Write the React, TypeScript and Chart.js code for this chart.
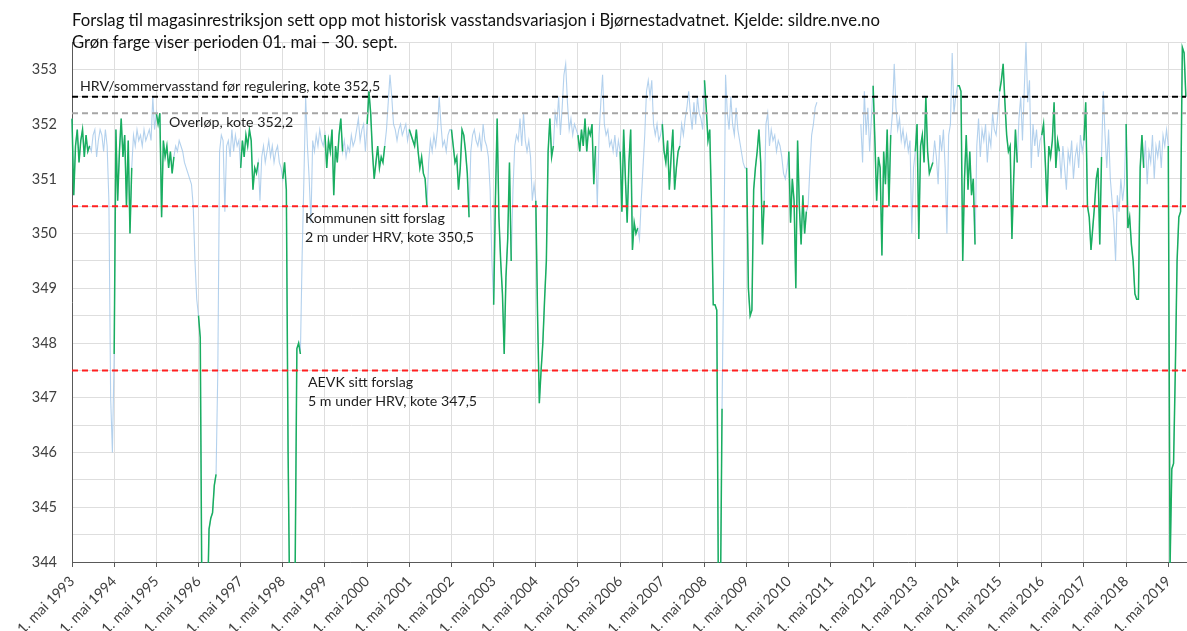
import React, { useEffect, useRef } from 'react';
import { Chart, registerables } from 'chart.js';

Chart.register(...registerables);

// Title and annotation texts
const TITLE_LINES = [
  'Forslag til magasinrestriksjon sett opp mot historisk vasstandsvariasjon i Bjørnestadvatnet. Kjelde: sildre.nve.no',
  'Grøn farge viser perioden 01. mai – 30. sept.',
];

// Year ticks (1. mai each year)
const TICK_YEARS = [1993, 1994, 1995, 1996, 1997, 1998, 1999, 2000, 2001, 2002, 2003, 2004, 2005, 2006, 2007, 2008, 2009, 2010, 2011, 2012, 2013, 2014, 2015, 2016, 2017, 2018, 2019];
const Y_LABELS = [344, 345, 346, 347, 348, 349, 350, 351, 352, 353];

// Reference levels (kote)
const HRV = 352.5;
const OVERLOP = 352.2;
const KOMMUNEN = 350.5;
const AEVK = 347.5;

// Water level, semi-monthly values from 1. mai each year to mid-April next year
const Y1993 = [352.1, 350.7, 351.6, 351.9, 351.3, 351.7, 351.9, 351.4, 351.8, 351.5, 351.6, 351.5, 351.8, 351.9, 351.4, 351.7, 351.9, 351.8, 351.5, 351.9, 351.6, 350.6, 347.0, 346.0];
const Y1994 = [347.8, 351.9, 350.6, 351.5, 352.1, 351.4, 351.8, 350.5, 351.7, 350.0, 351.2, 351.8, 351.6, 351.9, 351.7, 351.8, 351.6, 351.9, 351.7, 351.8, 351.9, 351.7, 352.5, 351.9];
const Y1995 = [352.2, 352.0, 352.2, 350.3, 351.7, 351.4, 351.6, 351.2, 351.5, 351.1, 351.4, 351.6, 351.5, 351.7, 351.6, 351.5, 351.3, 351.2, 351.1, 351.0, 350.9, 350.5, 349.5, 348.8];
const Y1996 = [348.5, 348.1, 343.0, 343.0, 343.0, 343.0, 344.6, 344.8, 344.9, 345.4, 345.6, 347.5, 351.5, 351.8, 351.7, 350.4, 351.6, 351.7, 351.4, 351.9, 351.5, 351.8, 351.6, 351.7];
const Y1997 = [351.2, 351.7, 351.4, 351.8, 351.6, 351.9, 351.7, 350.8, 351.2, 351.1, 351.3, 350.6, 351.4, 351.6, 351.3, 351.5, 351.7, 351.4, 351.6, 351.3, 351.5, 351.6, 351.3, 351.2];
const Y1998 = [351.0, 351.3, 350.8, 346.0, 343.0, 343.0, 343.0, 343.8, 347.9, 348.0, 347.8, 349.6, 351.0, 352.5, 351.6, 351.0, 350.2, 351.7, 351.5, 351.8, 351.6, 351.9, 351.7, 351.6];
const Y1999 = [351.8, 351.2, 351.7, 351.5, 351.9, 350.7, 351.6, 351.3, 351.8, 352.1, 351.5, 351.7, 351.4, 351.6, 351.5, 351.8, 351.6, 351.7, 351.9, 352.1, 351.7, 351.9, 352.0, 351.5];
const Y2000 = [352.0, 352.6, 352.2, 351.5, 351.0, 351.3, 351.6, 351.2, 351.4, 351.3, 351.6, 351.9, 352.4, 352.9, 352.5, 352.0, 351.9, 351.7, 351.9, 352.0, 351.8, 351.9, 352.0, 351.7];
const Y2001 = [351.9, 351.8, 351.7, 351.6, 351.9, 351.5, 351.2, 351.4, 351.1, 351.0, 350.5, 351.3, 351.7, 351.5, 351.8, 351.6, 351.9, 352.5, 352.0, 351.6, 351.7, 351.5, 351.8, 351.9];
const Y2002 = [351.9, 351.6, 351.3, 351.4, 350.8, 351.2, 351.9, 351.8, 351.5, 351.1, 350.3, 351.5, 351.8, 351.9, 351.7, 351.6, 351.8, 351.5, 352.0, 351.7, 351.6, 351.4, 350.8, 349.5];
const Y2003 = [348.7, 350.6, 352.1, 350.3, 349.5, 348.9, 347.8, 349.2, 349.9, 351.3, 349.5, 350.8, 351.6, 351.8, 351.7, 352.1, 351.6, 352.2, 351.7, 351.5, 351.7, 351.4, 350.6, 350.9];
const Y2004 = [350.6, 348.5, 346.9, 347.5, 348.0, 348.8, 349.5, 351.5, 352.1, 351.4, 351.6, 352.2, 352.0, 352.5, 351.8, 352.3, 352.9, 353.1, 352.4, 351.9, 352.1, 351.8, 352.0, 351.9];
const Y2005 = [351.8, 351.5, 351.9, 351.6, 352.1, 351.5, 351.9, 351.8, 352.0, 350.9, 351.6, 350.5, 351.8, 352.4, 352.9, 352.0, 351.8, 351.9, 351.6, 351.7, 351.5, 351.8, 351.4, 351.7];
const Y2006 = [351.5, 350.4, 351.9, 351.0, 350.2, 351.3, 351.9, 349.7, 350.2, 350.0, 350.1, 349.9, 350.6, 351.2, 351.8, 352.6, 352.8, 352.5, 352.8, 352.0, 351.8, 352.0, 351.7, 351.8];
const Y2007 = [352.0, 351.5, 351.3, 351.7, 350.8, 351.4, 351.9, 350.8, 351.2, 351.5, 351.6, 352.0, 351.8, 352.1, 352.3, 352.6, 352.2, 351.9, 352.4, 352.0, 352.5, 352.2, 352.1, 351.9];
const Y2008 = [352.8, 352.3, 351.7, 351.9, 350.5, 348.7, 348.7, 348.6, 343.0, 343.0, 346.8, 349.5, 352.9, 352.2, 351.9, 352.5, 352.0, 351.8, 352.3, 351.9, 351.7, 351.5, 351.3, 351.2];
const Y2009 = [351.2, 349.0, 348.5, 348.6, 350.8, 351.2, 351.5, 351.9, 351.3, 349.8, 350.6, 352.0, 352.2, 351.6, 351.9, 351.7, 351.8, 351.5, 351.7, 351.6, 351.4, 351.1, 351.0, 351.2];
const Y2010 = [351.5, 350.2, 351.0, 350.6, 349.0, 351.7, 350.5, 349.8, 350.7, 350.0, 350.4, 350.5, 351.2, 351.8, 352.0, 352.3, 352.4, null, null, null, null, null, null, null];
const Y2011 = [null, null, null, null, null, null, null, null, null, null, null, null, null, null, null, null, null, 352.0, 351.3, 352.6, 351.8, 352.3, 351.5, 352.1];
const Y2012 = [352.7, 351.7, 350.6, 351.4, 351.2, 349.6, 351.5, 350.9, 351.9, 350.5, 351.8, 352.2, 353.1, 352.3, 351.9, 352.1, 351.7, 351.9, 351.6, 351.8, 351.5, 351.7, 350.0, 351.2];
const Y2013 = [351.5, 352.0, 349.9, 351.6, 351.8, 351.3, 352.5, 351.5, 351.1, 351.2, 351.3, 351.7, 351.4, 350.9, 351.8, 351.5, 351.9, 351.2, 350.0, 351.8, 352.0, 353.3, 352.2, 352.5];
const Y2014 = [352.7, 352.7, 352.6, 349.5, 351.0, 351.8, 350.8, 351.5, 350.7, 351.0, 349.8, 351.6, 352.1, 351.4, 351.9, 351.7, 352.0, 351.3, 351.8, 351.6, 352.2, 351.9, 351.8, 352.2];
const Y2015 = [352.6, 352.8, 353.1, 352.4, 351.8, 351.5, 351.6, 349.9, 351.0, 351.9, 351.3, 352.1, 352.5, 351.7, 352.6, 353.5, 352.4, 352.8, 351.2, 352.0, 351.6, 351.9, 351.4, 351.7];
const Y2016 = [351.8, 352.0, 351.3, 350.5, 351.6, 351.4, 351.7, 352.4, 351.2, 351.7, 351.5, 351.0, 351.6, 351.2, 350.8, 351.5, 351.3, 351.7, 351.0, 351.4, 351.6, 351.2, 351.8, 351.5];
const Y2017 = [351.7, 352.4, 350.5, 350.3, 349.7, 350.1, 350.5, 351.0, 351.2, 349.8, 351.4, 352.6, 351.8, 351.2, 351.9, 351.0, 350.6, 350.2, 349.5, 350.7, 350.4, 351.0, 350.6, 350.9];
const Y2018 = [352.0, 350.1, 350.3, 349.8, 349.5, 348.9, 348.8, 348.8, 351.2, 351.8, 351.2, 351.7, 350.9, 351.5, 351.3, 351.8, 351.0, 351.6, 351.4, 351.7, 351.2, 351.8, 351.6, 351.9];
const Y2019 = [351.6, 343.9, 345.7, 345.8, 347.5, 349.5, 350.3, 350.4, 353.4, 353.3, 352.5];

const SEASONS: [number, (number | null)[]][] = [
  [1993, Y1993], [1994, Y1994], [1995, Y1995], [1996, Y1996], [1997, Y1997], [1998, Y1998],
  [1999, Y1999], [2000, Y2000], [2001, Y2001], [2002, Y2002], [2003, Y2003], [2004, Y2004],
  [2005, Y2005], [2006, Y2006], [2007, Y2007], [2008, Y2008], [2009, Y2009], [2010, Y2010],
  [2011, Y2011], [2012, Y2012], [2013, Y2013], [2014, Y2014], [2015, Y2015], [2016, Y2016],
  [2017, Y2017], [2018, Y2018], [2019, Y2019],
];

const STEPS_PER_YEAR = 24;
const SUMMER_LAST_STEP = 10; // 1. okt closes the 01. mai – 30. sept. period
const X_MAX = 26.42;

const GREEN = 'rgba(8,170,80,0.9)';
const BLUE = 'rgba(160,197,232,0.8)';
const FONT = 'Lato, "Open Sans", sans-serif';

function buildSeries() {
  const all: { x: number; y: number | null }[] = [];
  const summer: { x: number; y: number | null }[] = [];
  SEASONS.forEach(([year, vals]) => {
    vals.forEach((v, i) => {
      const x = year - TICK_YEARS[0] + i / STEPS_PER_YEAR;
      all.push({ x, y: v });
      summer.push({ x, y: i <= SUMMER_LAST_STEP ? v : null });
    });
  });
  return { all, summer };
}

function refLine(v: number) {
  return [{ x: 0, y: v }, { x: X_MAX, y: v }];
}

const textPlugin = {
  id: 'textPlugin',
  afterDatasetsDraw(chart: any) {
    const { ctx, chartArea, scales } = chart;
    const ys = scales.y;
    const left = chartArea.left;
    ctx.save();
    ctx.textBaseline = 'middle';
    ctx.textAlign = 'left';
    ctx.fillStyle = '#111111';
    ctx.font = `16.7px ${FONT}`;
    ctx.fillText(TITLE_LINES[0], left, 21);
    ctx.fillText(TITLE_LINES[1], left, 43);
    ctx.fillStyle = '#1e1e1e';
    ctx.font = `14.2px ${FONT}`;
    ctx.fillText('HRV/sommervasstand før regulering, kote 352,5', left + 8, ys.getPixelForValue(HRV) - 10);
    ctx.fillText('Overløp, kote 352,2', left + 97, ys.getPixelForValue(OVERLOP) + 9);
    ctx.fillText('Kommunen sitt forslag', left + 233, ys.getPixelForValue(KOMMUNEN) + 12);
    ctx.fillText('2 m under HRV, kote 350,5', left + 233, ys.getPixelForValue(KOMMUNEN) + 31);
    ctx.fillText('AEVK sitt forslag', left + 236, ys.getPixelForValue(AEVK) + 12);
    ctx.fillText('5 m under HRV, kote 347,5', left + 236, ys.getPixelForValue(AEVK) + 31);
    ctx.restore();
  },
};

export default function App() {
  const ref = useRef<HTMLCanvasElement | null>(null);
  useEffect(() => {
    if (!ref.current) return;
    const { all, summer } = buildSeries();
    const chart = new Chart(ref.current, {
      type: 'line',
      data: {
        datasets: [
          { data: refLine(HRV), borderColor: '#000000', borderWidth: 2, borderDash: [6, 4], pointRadius: 0, order: 0 },
          { data: refLine(OVERLOP), borderColor: '#a6a6a6', borderWidth: 2, borderDash: [6, 4], pointRadius: 0, order: 0 },
          { data: refLine(KOMMUNEN), borderColor: '#ff2020', borderWidth: 2, borderDash: [6, 4], pointRadius: 0, order: 0 },
          { data: refLine(AEVK), borderColor: '#ff2020', borderWidth: 2, borderDash: [6, 4], pointRadius: 0, order: 0 },
          { data: summer, borderColor: GREEN, borderWidth: 1.5, pointRadius: 0, spanGaps: false, order: 1, clip: 1 },
          { data: all, borderColor: BLUE, borderWidth: 1.1, pointRadius: 0, spanGaps: false, order: 2, clip: 1 },
        ] as any,
      },
      options: {
        animation: false,
        responsive: false,
        devicePixelRatio: 1,
        parsing: false as any,
        normalized: true,
        layout: { padding: { top: 42, right: 1, left: 0, bottom: 0 } },
        plugins: { legend: { display: false }, tooltip: { enabled: false }, title: { display: false } },
        elements: { line: { tension: 0 } },
        scales: {
          x: {
            type: 'linear',
            min: 0,
            max: X_MAX,
            afterBuildTicks: (s: any) => {
              s.ticks = TICK_YEARS.map((_, i) => ({ value: i }));
            },
            afterFit: (s: any) => {
              s.height = 69;
            },
            ticks: {
              autoSkip: false,
              maxRotation: 45,
              minRotation: 45,
              padding: 6,
              color: '#404040',
              font: { family: FONT, size: 14.2 },
              callback: (_v: any, i: number) => `1. mai ${TICK_YEARS[i]}`,
            },
            grid: { color: '#dedede', lineWidth: 1, drawTicks: true, tickLength: 5, tickColor: '#595959' },
            border: { color: '#595959', width: 1 },
          },
          y: {
            type: 'linear',
            min: 344,
            max: 353.5,
            afterFit: (s: any) => {
              s.width = 72;
            },
            ticks: {
              stepSize: 0.5,
              padding: 15,
              color: '#404040',
              font: { family: FONT, size: 14.5 },
              callback: (v: any) => (Y_LABELS.includes(v) ? String(v) : ''),
            },
            grid: { color: '#dedede', lineWidth: 1, drawTicks: false },
            border: { color: '#595959', width: 1 },
          },
        },
      },
      plugins: [textPlugin],
    });
    return () => chart.destroy();
  }, []);
  return (
    <div style={{ position: 'absolute', left: 0, top: 0, width: 1187, height: 631, background: '#ffffff' }}>
      <canvas ref={ref} width={1187} height={631} style={{ display: 'block' }} />
    </div>
  );
}
